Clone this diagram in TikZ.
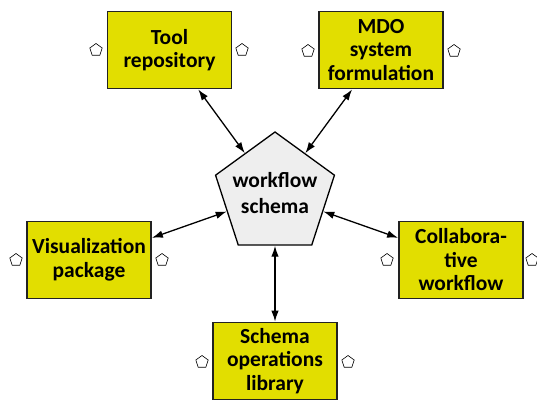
\documentclass[tikz,border=0pt]{standalone}
\usepackage{fontspec}
\setmainfont{Carlito}
\usetikzlibrary{shapes.geometric,arrows.meta}
\definecolor{boxyellow}{RGB}{226,222,0}
\definecolor{pentgray}{RGB}{238,238,238}
\definecolor{boxborder}{RGB}{34,34,34}
\tikzset{
  toolbox/.style={draw=boxborder, line width=1.8pt, fill=boxyellow, minimum width=124pt, minimum height=77pt, inner sep=1pt, align=center, font=\fontsize{21.5}{23.5}\selectfont\bfseries},
  centerpent/.style={regular polygon, regular polygon sides=5, draw=black, line width=1.3pt, fill=pentgray, minimum size=125pt, inner sep=0pt},
  pentlabel/.style={inner sep=0pt, align=center, font=\fontsize{21.5}{26}\selectfont\bfseries},
  tinypent/.style={regular polygon, regular polygon sides=5, draw=black, line width=0.6pt, fill=white, minimum size=13pt, inner sep=0pt},
  link/.style={{Latex[length=11pt,width=7.5pt]}-{Latex[length=11pt,width=7.5pt]}, line width=1.3pt, black}
}
\begin{document}
\begin{tikzpicture}[x=1pt,y=-1pt]
\useasboundingbox (0,0) rectangle (537,402);
\node[centerpent] (ws) at (275,194.5) {};
\node[pentlabel] (wsl) at (275,193) {workflow\\schema};
\node[toolbox] (tool) at (169.5,50) {Tool\\repository};
\node[toolbox] (mdo) at (381,50) {MDO\\system\\formulation};
\node[toolbox] (vis) at (89,260) {Visualization\\package};
\node[toolbox] (collab) at (461,260) {Collabora-\\tive\\workflow};
\node[toolbox] (sol) at (275,361) {Schema\\operations\\library};
\node[tinypent] (p1) at (96,50) {};
\node[tinypent] (p2) at (242,50) {};
\node[tinypent] (p3) at (308,51) {};
\node[tinypent] (p4) at (454,51) {};
\node[tinypent] (p5) at (16,260) {};
\node[tinypent] (p6) at (162,260) {};
\node[tinypent] (p7) at (387,260) {};
\node[tinypent] (p8) at (532,260) {};
\node[tinypent] (p9) at (202,362) {};
\node[tinypent] (p10) at (348,362) {};
\draw[link] (tool) -- (ws);
\draw[link] (mdo) -- (ws);
\draw[link] (vis) -- (ws);
\draw[link] (collab) -- (ws);
\draw[link] (sol) -- (ws);
\end{tikzpicture}
\end{document}
